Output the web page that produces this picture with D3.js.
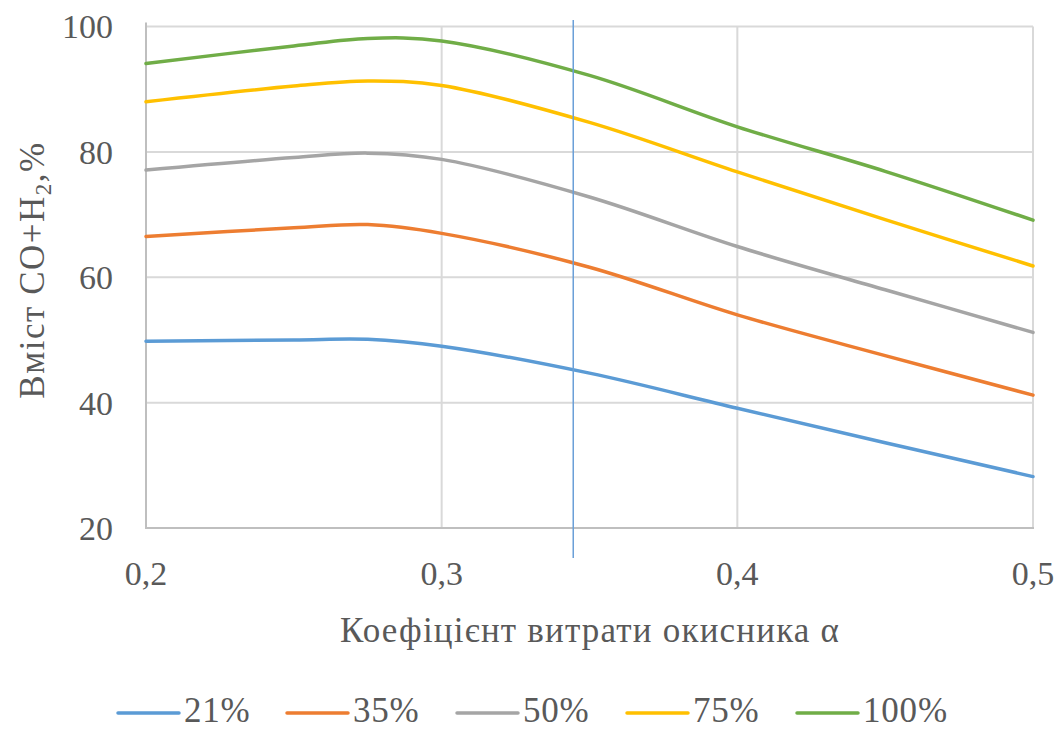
<!DOCTYPE html>
<html>
<head>
<meta charset="utf-8">
<script src="https://cdn.jsdelivr.net/npm/d3@7"></script>
<style>
  html, body { margin: 0; padding: 0; background: #ffffff; }
  svg { display: block; }
</style>
</head>
<body>
<svg id="chart" width="1063" height="729"></svg>
<script>
// ---- data ----
const alphaValues = [0.2, 0.25, 0.275, 0.3, 0.35, 0.4, 0.45, 0.5];
const seriesNames = ["21%", "35%", "50%", "75%", "100%"];
const s21  = [49.8, 50.0, 50.1, 49.0, 44.7, 39.1, 33.6, 28.2];
const s35  = [66.5, 67.9, 68.4, 67.0, 61.6, 54.0, 47.5, 41.2];
const s50  = [77.1, 79.1, 79.8, 78.8, 72.8, 64.9, 58.0, 51.2];
const s75  = [88.0, 90.5, 91.3, 90.6, 84.7, 76.8, 69.2, 61.8];
const s100 = [94.1, 96.9, 98.1, 97.7, 92.2, 84.0, 76.9, 69.1];
const seriesColors = ["#5B9BD5", "#ED7D31", "#A5A5A5", "#FFC000", "#70AD47"];
const xTicks = [0.2, 0.3, 0.4, 0.5];
const yTicks = [20, 40, 60, 80, 100];
const markerAlpha = [0.3445];
const xTitle = "Коефіцієнт витрати окисника α";

const seriesValues = [s21, s35, s50, s75, s100];
const FONT = "'Liberation Serif', 'DejaVu Serif', serif";

const svg = d3.select("#chart");
const x = d3.scaleLinear().domain([0.2, 0.5]).range([146, 1033]);
const y = d3.scaleLinear().domain([20, 100]).range([528, 26.5]);

// gridlines
svg.append("g").selectAll("line.h").data(yTicks.filter(v => v > 20)).join("line")
  .attr("x1", x(0.2)).attr("x2", x(0.5))
  .attr("y1", d => y(d)).attr("y2", d => y(d))
  .attr("stroke", "#d9d9d9").attr("stroke-width", 2);
svg.append("g").selectAll("line.v").data(xTicks.filter(v => v > 0.2)).join("line")
  .attr("x1", d => x(d)).attr("x2", d => x(d))
  .attr("y1", y(100)).attr("y2", y(20))
  .attr("stroke", "#d9d9d9").attr("stroke-width", 2);

// axes lines
svg.append("line").attr("x1", x(0.2)).attr("x2", x(0.2)).attr("y1", y(100) - 4).attr("y2", y(20))
  .attr("stroke", "#bfbfbf").attr("stroke-width", 2);
svg.append("line").attr("x1", x(0.2) - 1).attr("x2", x(0.5) + 1).attr("y1", y(20)).attr("y2", y(20))
  .attr("stroke", "#bfbfbf").attr("stroke-width", 2);

const txt = sel => sel.style("font-family", FONT).attr("fill", "#595959");

// tick labels
svg.append("g").selectAll("text").data(yTicks).join("text")
  .call(txt)
  .attr("x", 113).attr("y", d => y(d)).attr("dy", "0.35em")
  .attr("text-anchor", "end").attr("font-size", 34)
  .text(d => d);
svg.append("g").selectAll("text").data(xTicks).join("text")
  .call(txt)
  .attr("x", d => x(d)).attr("y", 585)
  .attr("text-anchor", "middle").attr("font-size", 34)
  .text(d => d3.format(".1f")(d).replace(".", ","));

// axis titles
svg.append("text").call(txt).attr("x", 590).attr("y", 642).attr("text-anchor", "middle")
  .attr("font-size", 35).attr("letter-spacing", 1.2).text(xTitle);
const yt = svg.append("text").call(txt).attr("transform", "translate(44,270) rotate(-90)")
  .attr("text-anchor", "middle").attr("font-size", 35).attr("letter-spacing", 1.5);
yt.append("tspan").text("Вміст CO+H");
yt.append("tspan").attr("font-size", 23).attr("dy", 7).text("2");
yt.append("tspan").attr("dy", -7).text(",%");

// series lines
const line = d3.line()
  .x((d, i) => x(alphaValues[i]))
  .y(d => y(d))
  .curve(d3.curveCatmullRom.alpha(0.5));
svg.append("g").selectAll("path").data(seriesValues).join("path")
  .attr("d", d => line(d))
  .attr("fill", "none")
  .attr("stroke", (d, i) => seriesColors[i])
  .attr("stroke-width", 3.5)
  .attr("stroke-linecap", "round");

// vertical marker line
svg.append("g").selectAll("line").data(markerAlpha).join("line")
  .attr("x1", d => x(d)).attr("x2", d => x(d))
  .attr("y1", 20).attr("y2", 558)
  .attr("stroke", "#6a9fd8").attr("stroke-width", 1.5);

// legend
const legendX = [118, 287, 457, 627, 797];
const lg = svg.append("g").selectAll("g").data(seriesNames).join("g")
  .attr("transform", (d, i) => `translate(${legendX[i]},713)`);
lg.append("line").attr("x1", 0).attr("x2", 61).attr("y1", 0).attr("y2", 0)
  .attr("stroke", (d, i) => seriesColors[i]).attr("stroke-width", 3.5)
  .attr("stroke-linecap", "round");
lg.append("text").call(txt).attr("x", 66).attr("y", 9).attr("font-size", 35)
  .attr("letter-spacing", 0.8).text(d => d);
</script>
</body>
</html>
